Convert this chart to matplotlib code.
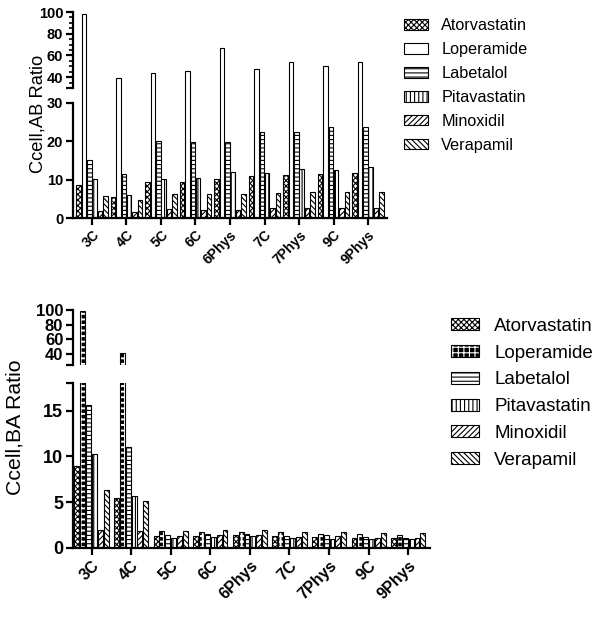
import numpy as np
import matplotlib
matplotlib.use('Agg')
import matplotlib.pyplot as plt
from matplotlib.patches import Patch
from matplotlib.ticker import MultipleLocator

plt.rcParams['font.family'] = ['Liberation Sans', 'DejaVu Sans']
plt.rcParams['hatch.linewidth'] = 0.8

groups = ['3C', '4C', '5C', '6C', '6Phys', '7C', '7Phys', '9C', '9Phys']
drugs = ['Atorvastatin', 'Loperamide', 'Labetalol', 'Pitavastatin', 'Minoxidil', 'Verapamil']

# Ccell,AB ratio
ator_ab = [8.6, 5.5, 9.5, 9.5, 10.3, 10.9, 11.2, 11.5, 11.7]
lop_ab = [98, 39, 44, 46, 66.5, 47.5, 54, 50, 54]
lab_ab = [15.2, 11.4, 20.1, 19.9, 19.8, 22.5, 22.5, 23.7, 23.7]
pita_ab = [10.1, 6.0, 10.1, 10.4, 12.0, 11.7, 12.8, 12.5, 13.3]
minox_ab = [1.9, 1.6, 2.3, 2.2, 2.2, 2.5, 2.5, 2.5, 2.5]
vera_ab = [5.8, 4.7, 6.2, 6.3, 6.3, 6.6, 6.8, 6.8, 6.8]

# Ccell,BA ratio
ator_ba = [8.9, 5.5, 1.3, 1.3, 1.4, 1.3, 1.2, 1.1, 1.1]
lop_ba = [98, 42, 1.9, 1.8, 1.8, 1.7, 1.5, 1.5, 1.4]
lab_ba = [15.6, 11.0, 1.4, 1.5, 1.5, 1.3, 1.4, 1.2, 1.1]
pita_ba = [10.3, 5.7, 1.1, 1.2, 1.3, 1.1, 1.0, 1.0, 1.0]
minox_ba = [2.0, 1.9, 1.3, 1.4, 1.4, 1.2, 1.3, 1.1, 1.1]
vera_ba = [6.3, 5.1, 1.9, 2.0, 2.0, 1.8, 1.7, 1.6, 1.6]

hatch_ab = ['xxxxxx', '', '----', '||||', '//////', '\\\\\\\\\\\\']
hatch_ba = ['xxxxxx', '+++', '----', '||||', '//////', '\\\\\\\\\\\\']

W, H = 602, 617
fig = plt.figure(figsize=(W / 100, H / 100), dpi=100)


def rect(x0, y0, x1, y1):
    # pixel box -> figure fraction
    return [x0 / W, 1 - y1 / H, (x1 - x0) / W, (y1 - y0) / H]


def bar_style(i, hatches):
    # checkered loperamide in the BA chart: black face, white grid
    if hatches[i] == '+++':
        return dict(facecolor='black', edgecolor='white', linewidth=0.8, hatch='+++')
    return dict(facecolor='white', edgecolor='black', linewidth=0.8, hatch=hatches[i])


def draw_bars(ax, pos, vals, width, i, hatches, clip=True):
    st = bar_style(i, hatches)
    bars = list(ax.bar(pos, vals, width, **st))
    if st['facecolor'] == 'black':
        for p in bars:
            if hasattr(p, 'set_hatch_linewidth'):
                p.set_hatch_linewidth(1.4)
        bars += list(ax.bar(pos, vals, width, fill=False, edgecolor='black', linewidth=0.8))
    if not clip:
        for p in bars:
            p.set_clip_on(False)


def style(ax, fs, bottom=True):
    for s in ['top', 'right']:
        ax.spines[s].set_visible(False)
    ax.spines['left'].set_linewidth(1.6)
    ax.spines['bottom'].set_linewidth(1.6)
    if not bottom:
        ax.spines['bottom'].set_visible(False)
        ax.tick_params(axis='x', bottom=False, labelbottom=False)
    ax.tick_params(axis='both', direction='out', width=1.6, length=5, labelsize=fs, pad=2)
    for t in ax.get_yticklabels() + ax.get_xticklabels():
        t.set_fontweight('bold')


def panel(series, hatches, hi_box, lo_box, hi_lim, lo_lim, hi_ticks, lo_ticks,
          xlim, pitch, width, fs_y, fs_x, joined):
    x = np.arange(len(groups))
    ax_lo = fig.add_axes(rect(*lo_box))
    ax_hi = fig.add_axes(rect(*hi_box))
    ax_lo.set_ylim(*lo_lim)
    ax_hi.set_ylim(*hi_lim)
    for ax in (ax_lo, ax_hi):
        ax.set_xlim(*xlim)

    cap = None
    if joined:
        y_disp = ax_hi.transAxes.transform((0, 0))[1]
        cap = ax_lo.transData.inverted().transform((0, y_disp))[1] + 1.0

    for i, vals in enumerate(series):
        pos = x + (i - 2.5) * pitch
        vals = np.array(vals, dtype=float)
        draw_bars(ax_hi, pos, vals, width, i, hatches)
        if joined:
            draw_bars(ax_lo, pos, np.minimum(vals, cap), width, i, hatches, clip=False)
        else:
            draw_bars(ax_lo, pos, vals, width, i, hatches)

    lo_t = list(lo_ticks)
    lo_l = [str(t) for t in lo_ticks]
    if lo_lim[1] not in lo_ticks:
        lo_t.append(lo_lim[1])
        lo_l.append('')
    ax_lo.set_yticks(lo_t)
    ax_lo.set_yticklabels(lo_l)
    ax_hi.set_yticks([hi_lim[0]] + hi_ticks)
    ax_hi.set_yticklabels([''] + [str(t) for t in hi_ticks])
    ax_lo.set_xticks(x)
    ax_lo.set_xticklabels(groups, rotation=45, ha='right', rotation_mode='anchor')
    style(ax_lo, fs_y)
    style(ax_hi, fs_y, bottom=False)
    for t in ax_lo.get_xticklabels():
        t.set_fontsize(fs_x)
    return ax_hi, ax_lo


def legend_handles(hatches):
    hs = []
    for i in range(len(hatches)):
        st = bar_style(i, hatches)
        p = Patch(**st)
        if st['facecolor'] == 'black':
            if hasattr(p, 'set_hatch_linewidth'):
                p.set_hatch_linewidth(1.4)
            hs.append((p, Patch(fill=False, edgecolor='black', linewidth=0.8)))
        else:
            hs.append(p)
    return hs


# top chart: Ccell,AB
ax_hi, ax_lo = panel([ator_ab, lop_ab, lab_ab, pita_ab, minox_ab, vera_ab], hatch_ab,
                     (73, 12, 387, 88), (73, 103, 387, 218), (30, 100), (0, 30),
                     [40, 60, 80, 100], [0, 10, 20, 30], (-0.55, 8.55), 0.154, 0.13,
                     10.5, 10, True)
ax_hi.yaxis.set_minor_locator(MultipleLocator(5))
ax_hi.tick_params(axis='y', which='minor', length=3, width=1.2)
fig.text(38 / W, 1 - 114 / H, 'Ccell,AB Ratio', rotation=90, ha='center', va='center',
         fontsize=13.2)

fig.legend(legend_handles(hatch_ab), drugs, loc='upper left',
           bbox_to_anchor=(404 / W, 1 - 18 / H),
           frameon=False, fontsize=11.7, handlelength=1.5, handleheight=0.65,
           labelspacing=0.55, handletextpad=0.8, borderpad=0, borderaxespad=0)

# bottom chart: Ccell,BA
ax_hi2, ax_lo2 = panel([ator_ba, lop_ba, lab_ba, pita_ba, minox_ba, vera_ba], hatch_ba,
                       (73, 310, 430, 365), (73, 383, 430, 548), (25, 100), (0, 18),
                       [40, 60, 80, 100], [0, 5, 10, 15], (-0.47, 8.55), 0.148, 0.125,
                       13, 11.5, False)
for t in ax_hi2.get_yticklabels():
    t.set_fontsize(12)
fig.text(15 / W, 1 - 427 / H, 'Ccell,BA Ratio', rotation=90, ha='center', va='center',
         fontsize=15.3)

fig.legend(legend_handles(hatch_ba), drugs, loc='upper left',
           bbox_to_anchor=(451 / W, 1 - 318 / H),
           frameon=False, fontsize=13.5, handlelength=1.5, handleheight=0.6,
           labelspacing=0.52, handletextpad=0.8, borderpad=0, borderaxespad=0)

fig.savefig('out.png', dpi=100)
